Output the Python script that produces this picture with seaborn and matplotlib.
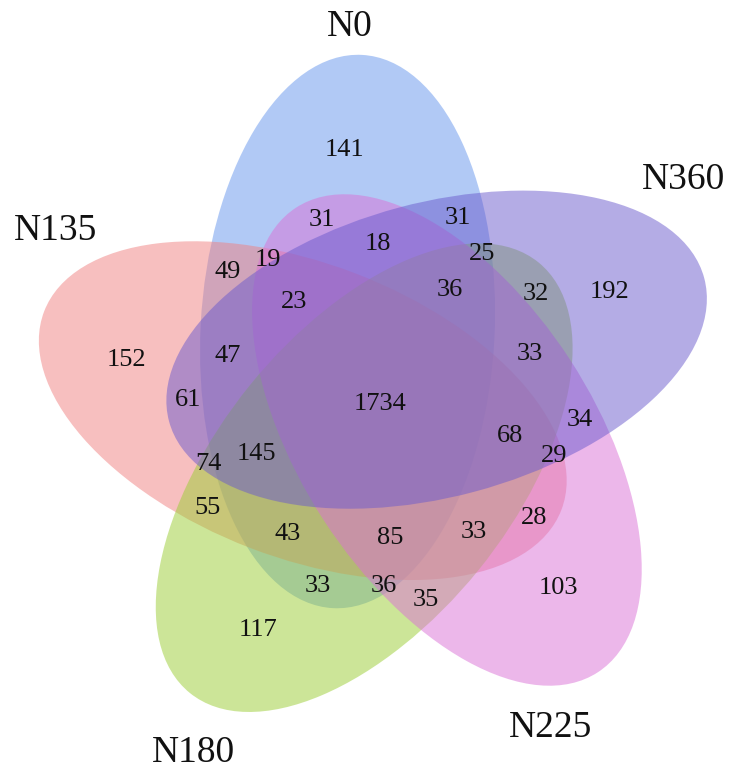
import numpy as np
import matplotlib
matplotlib.use("Agg")
import matplotlib.pyplot as plt
from matplotlib.patches import Ellipse
import seaborn as sns

# Five-set Venn diagram (ellipses), counts per region

set_names = ["N0", "N135", "N180", "N225", "N360"]
set_colors = ["cornflowerblue", "lightcoral", "yellowgreen", "orchid", "slateblue"]

region_members = [
    "N0", "N135", "N180", "N225", "N360",
    "N0&N135", "N0&N180", "N0&N225", "N0&N360",
    "N135&N180", "N135&N225", "N135&N360",
    "N180&N225", "N180&N360", "N225&N360",
    "N0&N135&N180", "N0&N135&N225", "N0&N135&N360",
    "N0&N180&N225", "N0&N180&N360", "N0&N225&N360",
    "N135&N180&N225", "N135&N180&N360", "N135&N225&N360",
    "N180&N225&N360",
    "N0&N135&N180&N225", "N0&N135&N180&N360", "N0&N135&N225&N360",
    "N0&N180&N225&N360", "N135&N180&N225&N360",
    "N0&N135&N180&N225&N360",
]
region_counts = [
    141, 152, 117, 103, 192,
    49, 33, 31, 31,
    55, 28, 61,
    35, 32, 34,
    43, 19, 47,
    36, 25, 18,
    33, 74, 29,
    33,
    85, 145, 23,
    36, 68,
    1734,
]

# set label placement: angle clockwise from top (deg), distance from centre (px)
label_angle = [-4.5, 298.4, 208.2, 152.0, 53.4]
label_dist = [380, 368, 393, 365, 379]

# layout in pixels
W, H = 734, 772
cx, cy = 379.6, 401.9
shift_along, shift_side = 68.6, -35.7
semi_a, semi_b = 277, 147
tilt = 3.0


def ellipse_geom(j):
    deg = tilt - 72 * j
    ang = np.deg2rad(deg)
    u = np.array([np.sin(ang), -np.cos(ang)])
    p = np.array([np.cos(ang), np.sin(ang)])
    c = np.array([cx, cy]) + shift_along * u + shift_side * p
    return c, u, p, deg


# which sets cover each grid point
xs = np.arange(0, W, 2.0)
ys = np.arange(0, H, 2.0)
X, Y = np.meshgrid(xs, ys)
code = np.zeros(X.shape, int)
for j in range(len(set_names)):
    c, u, p, _ = ellipse_geom(j)
    dx, dy = X - c[0], Y - c[1]
    t1 = (dx * u[0] + dy * u[1]) / semi_a
    t2 = (dx * p[0] + dy * p[1]) / semi_b
    code |= ((t1 ** 2 + t2 ** 2) <= 1).astype(int) << j


def label_pos(k):
    # erode the region part way in, then take the point closest to its centroid
    m = code == k
    yy, xx = np.nonzero(m)
    mx, my = xx.mean(), yy.mean()
    levels = []
    while m.any():
        levels.append(m)
        m = m & np.roll(m, 1, 0) & np.roll(m, -1, 0) & np.roll(m, 1, 1) & np.roll(m, -1, 1)
    m = levels[len(levels) // 2]
    yy, xx = np.nonzero(m)
    i = np.argmin((xx - mx) ** 2 + (yy - my) ** 2)
    return xs[xx[i]], ys[yy[i]]


sns.set_theme(style="white")
plt.rcParams["font.family"] = ["Liberation Serif", "DejaVu Serif"]

fig = plt.figure(figsize=(7.34, 7.72), dpi=100)
ax = fig.add_axes([0, 0, 1, 1])
ax.set_xlim(0, W)
ax.set_ylim(H, 0)
ax.axis("off")

for j, name in enumerate(set_names):
    c, u, p, deg = ellipse_geom(j)
    ax.add_patch(Ellipse(c, 2 * semi_b, 2 * semi_a, angle=deg,
                         facecolor=set_colors[j], alpha=0.5, lw=0))
    a = np.deg2rad(label_angle[j])
    ax.text(cx + label_dist[j] * np.sin(a), cy - label_dist[j] * np.cos(a), name,
            ha="center", va="center_baseline", fontsize=27, color="#111111")

for members, n in zip(region_members, region_counts):
    k = sum(1 << set_names.index(s) for s in members.split("&"))
    x, y = label_pos(k)
    ax.text(x, y, str(n), ha="center", va="center_baseline", fontsize=19, color="#111111")

fig.savefig("out.png", dpi=100)
